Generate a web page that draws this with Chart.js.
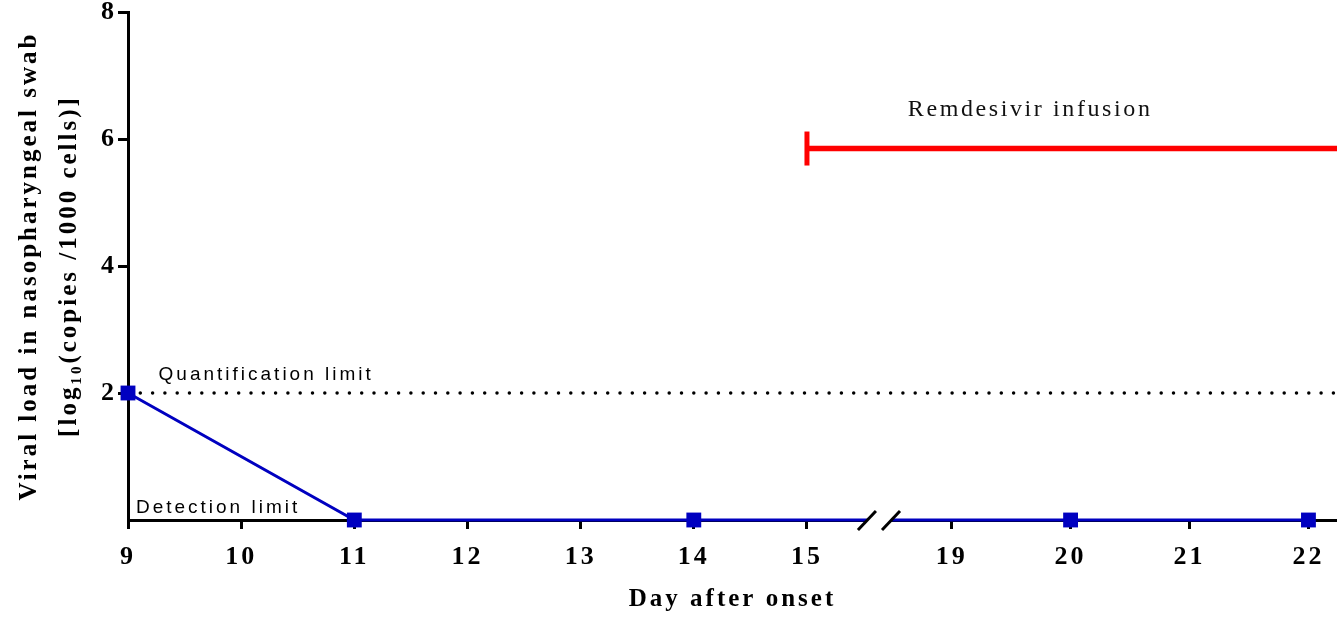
<!DOCTYPE html>
<html>
<head>
<meta charset="utf-8">
<script src="https://cdn.jsdelivr.net/npm/chart.js@4.4.1/dist/chart.umd.min.js"></script>
<style>
  html, body { margin: 0; padding: 0; background: #fff; }
  #wrap { width: 1337px; height: 617px; position: relative; }
</style>
</head>
<body>
<div id="wrap"><canvas id="viralChart"></canvas></div>
<script>
// data
var days = [9, 11, 14, 20, 22];
var viralLoad = [2, 0, 0, 0, 0];
var xTicks = [9, 10, 11, 12, 13, 14, 15, 19, 20, 21, 22];
var yTicks = [2, 4, 6, 8];
var quantificationLimit = 2;
var infusionStart = 15;
var infusionLevel = 5.85;

var X_MIN = 9, X_MAX = 22.24;
var SERIF = '"Liberation Serif", "Times New Roman", serif';
var SANS = '"Liberation Sans", Arial, sans-serif';

// linear scale with a gap between day 15 and day 19
class BrokenScale extends Chart.LinearScale {
   _dec(value) {
      var o = this.options;
      var gapL = o.leftFrac, gapR = 1 - o.rightFrac;
      if (value <= o.breakStart) return (value - this.min) / (o.breakStart - this.min) * gapL;
      if (value >= o.breakEnd) return gapR + (value - o.breakEnd) / (this.max - o.breakEnd) * o.rightFrac;
      return gapL + (value - o.breakStart) / (o.breakEnd - o.breakStart) * (gapR - gapL);
   }
   getPixelForValue(value) {
      if (value === null || isNaN(value)) return NaN;
      return this.getPixelForDecimal(this._dec(value));
   }
   getValueForPixel(pixel) {
      var d = this.getDecimalForPixel(pixel);
      var o = this.options;
      if (d <= o.leftFrac) return this.min + d / o.leftFrac * (o.breakStart - this.min);
      return o.breakEnd + (d - (1 - o.rightFrac)) / o.rightFrac * (this.max - o.breakEnd);
   }
}
BrokenScale.id = 'brokenLinear';
BrokenScale.defaults = Chart.LinearScale.defaults;
Chart.register(BrokenScale);

function noPadding(scale) {
   scale.paddingLeft = 0;
   scale.paddingRight = 0;
   scale.paddingTop = 0;
   scale.paddingBottom = 0;
}

var spacingPlugin = {
   id: 'spacing',
   beforeDraw: function(chart) {
      chart.ctx.letterSpacing = '3px';
   }
};

var notesPlugin = {
   id: 'notes',
   afterDatasetsDraw: function(chart) {
      var ctx = chart.ctx;
      var xs = chart.scales.x, ys = chart.scales.y;
      ctx.save();
      ctx.fillStyle = '#000';
      ctx.textBaseline = 'middle';

      ctx.font = '19px ' + SANS;
      ctx.letterSpacing = '3px';
      ctx.textAlign = 'left';
      ctx.fillText('Quantification limit', xs.getPixelForValue(9.27), ys.getPixelForValue(2.28));
      ctx.fillText('Detection limit', xs.getPixelForValue(9.07), ys.getPixelForValue(0.2));

      ctx.font = '24px ' + SERIF;
      ctx.letterSpacing = '2.6px';
      ctx.textAlign = 'center';
      ctx.fillStyle = '#111';
      ctx.fillText('Remdesivir infusion', xs.getPixelForValue(19.66), ys.getPixelForValue(6.46));

      // axis break
      var o = xs.options;
      var p1 = xs.getPixelForValue(o.breakStart);
      var p2 = xs.getPixelForValue(o.breakEnd);
      var yb = xs.top;
      ctx.fillStyle = '#fff';
      ctx.fillRect(p1, yb - 8, p2 - p1, 14);
      ctx.strokeStyle = '#000';
      ctx.lineWidth = 3;
      [p1, p2].forEach(function(p) {
         ctx.beginPath();
         ctx.moveTo(p - 9, yb + 10);
         ctx.lineTo(p + 9, yb - 9);
         ctx.stroke();
      });
      ctx.restore();
   }
};

var ctx = document.getElementById('viralChart').getContext('2d');
var viralChart = new Chart(ctx, {
   type: 'line',
   data: {
      datasets: [{
         label: 'Viral load',
         data: days.map(function(d, i) { return {x: d, y: viralLoad[i]}; }),
         borderColor: '#0000C0',
         backgroundColor: '#0000C0',
         borderWidth: 3,
         pointStyle: 'rect',
         pointRadius: 10.5,
         pointBorderWidth: 0,
         tension: 0,
         clip: false,
         order: 1
      }, {
         label: 'Quantification limit',
         data: [{x: X_MIN, y: quantificationLimit}, {x: X_MAX, y: quantificationLimit}],
         borderColor: '#000',
         borderWidth: 3.5,
         borderDash: [0, 12.3],
         borderCapStyle: 'round',
         pointRadius: 0,
         clip: false,
         order: 2
      }, {
         label: 'Remdesivir infusion',
         data: [{x: infusionStart, y: infusionLevel}, {x: X_MAX, y: infusionLevel}],
         borderColor: '#FF0000',
         backgroundColor: '#FF0000',
         borderWidth: 5.5,
         pointStyle: 'line',
         pointRotation: 90,
         pointRadius: [17, 0],
         pointBorderWidth: 5,
         pointBorderColor: '#FF0000',
         clip: false,
         order: 3
      }]
   },
   options: {
      responsive: true,
      maintainAspectRatio: false,
      animation: false,
      layout: { autoPadding: false, padding: { top: 12, right: 0, left: 0, bottom: 0 } },
      plugins: {
         legend: { display: false },
         tooltip: { enabled: false }
      },
      scales: {
         x: {
            type: 'brokenLinear',
            min: X_MIN,
            max: X_MAX,
            breakStart: 15.53,
            breakEnd: 18.49,
            leftFrac: 0.6112,
            rightFrac: 0.3689,
            afterBuildTicks: function(scale) {
               scale.ticks = xTicks.map(function(v) { return {value: v}; });
            },
            afterFit: function(scale) { scale.height = 97; noPadding(scale); },
            grid: { drawOnChartArea: false, drawTicks: true, tickLength: 9, lineWidth: 3, color: '#000' },
            border: { display: true, color: '#000', width: 3 },
            ticks: {
               color: '#000',
               padding: 15,
               maxRotation: 0,
               autoSkip: false,
               font: { family: SERIF, size: 26, weight: 'bold', lineHeight: 1 },
               callback: function(v) { return String(v); }
            },
            title: {
               display: true,
               text: 'Day after onset',
               color: '#000',
               padding: { top: 0, bottom: 2 },
               font: { family: SERIF, size: 25, weight: 'bold', lineHeight: 1.2 }
            }
         },
         y: {
            min: 0,
            max: 8,
            afterBuildTicks: function(scale) {
               scale.ticks = yTicks.map(function(v) { return {value: v}; });
            },
            afterFit: function(scale) { scale.width = 128; noPadding(scale); },
            grid: { drawOnChartArea: false, drawTicks: true, tickLength: 10, lineWidth: 3, color: '#000' },
            border: { display: true, color: '#000', width: 3 },
            ticks: {
               color: '#000',
               padding: 1,
               font: { family: SERIF, size: 26, weight: 'bold', lineHeight: 1 }
            },
            title: {
               display: true,
               text: ['Viral load in nasopharyngeal swab', '[log\u2081\u2080(copies /1000 cells)]'],
               color: '#000',
               padding: { top: 10, bottom: 0 },
               font: { family: SERIF, size: 25, weight: 'bold', lineHeight: 1.6 }
            }
         }
      }
   },
   plugins: [spacingPlugin, notesPlugin]
});
</script>
</body>
</html>
